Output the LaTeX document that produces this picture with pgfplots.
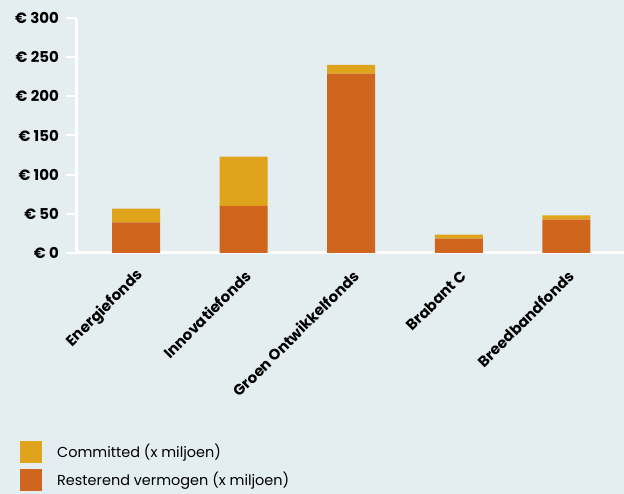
\documentclass[border=0pt]{standalone}
\usepackage{fontspec}
\setmainfont{Poppins}
\usepackage{pgfplots}
\pgfplotsset{compat=1.18}
\definecolor{bg}{HTML}{E4EEF0}
\definecolor{oranje}{HTML}{D0651D}
\definecolor{geel}{HTML}{E0A31C}
\begin{document}
\begin{tikzpicture}[x=1bp,y=1bp]
\fill[bg] (0,0) rectangle (624,494);
\useasboundingbox (0,0) rectangle (624,494);
\begin{axis}[
  at={(76bp,241bp)}, anchor=south west,
  scale only axis, width=548bp, height=235bp,
  xmin=-0.558, xmax=4.535, ymin=0, ymax=300,
  ybar stacked, bar width=48bp,
  axis x line=bottom, axis y line=left,
  axis line style={white, line width=3bp, -},
  xtick={0,1,2,3,4},
  xticklabels={Energiefonds, Innovatiefonds, Groen Ontwikkelfonds, Brabant C, Breedbandfonds},
  x tick label style={font=\fontsize{15}{17}\selectfont\bfseries, xshift=5bp, yshift=-10bp, rotate=45, anchor=east, inner sep=0pt},
  major x tick style={draw=none},
  ytick={0,50,...,300},
  yticklabels={€ 0, € 50, € 100, € 150, € 200, € 250, € 300},
  y tick label style={font=\fontsize{15}{17}\selectfont\bfseries, anchor=east, inner sep=0pt, xshift=-7bp},
  tick align=outside,
  major tick length=10bp,
  y tick style={white, line width=2bp},
  tick label style={/pgf/number format/assume math mode=true},
  reverse legend,
  legend style={at={(-56bp,-188bp)}, anchor=north west, draw=none, fill=none,
    font=\fontsize{14.5}{17}\selectfont, row sep=6bp, inner sep=0pt,
    /tikz/every odd column/.style={column sep=13bp}},
  legend cell align=left,
  legend image code/.code={\fill[#1] (0bp,-12bp) rectangle (22bp,10bp);},
  clip=false,
]
\addplot[fill=oranje, draw=none] coordinates {(0,39) (1,60) (2,229) (3,18.5) (4,42.5)};
\addplot[fill=geel, draw=none] coordinates {(0,17.5) (1,63) (2,11) (3,5) (4,5.5)};
\legend{Resterend vermogen (x miljoen), Committed (x miljoen)}
\draw[white, line width=3bp] (rel axis cs:0,0) -- (rel axis cs:1,0);
\end{axis}
\end{tikzpicture}
\end{document}
